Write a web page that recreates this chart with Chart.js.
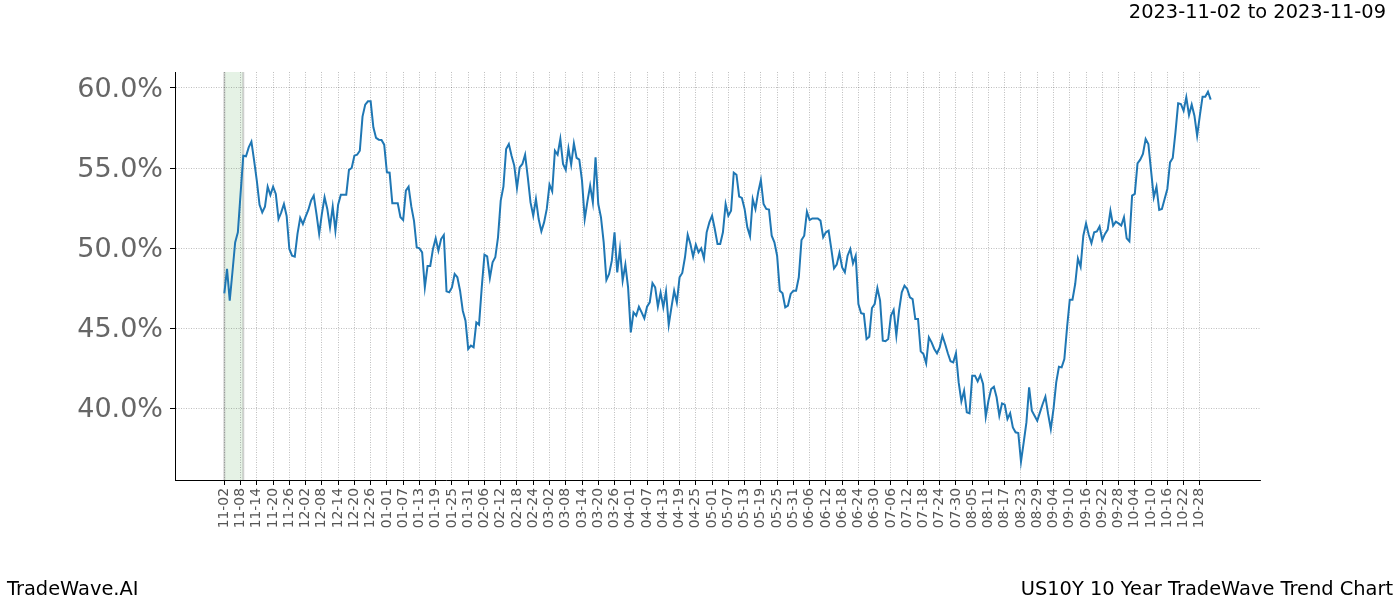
<!DOCTYPE html>
<html>
<head>
<meta charset="utf-8">
<script src="https://cdn.jsdelivr.net/npm/chart.js@4.4.1/dist/chart.umd.min.js"></script>
<style>
html,body{margin:0;padding:0;background:#fff;}
#wrap{position:relative;width:1400px;height:600px;}
canvas{position:absolute;left:0;top:0;}
.txt{position:absolute;font-family:"DejaVu Sans";font-size:19.4px;color:#000;white-space:nowrap;line-height:1;}
</style>
</head>
<body>
<div id="wrap">
<canvas id="trendChart" width="1400" height="600"></canvas>
<div class="txt" style="right:14px;top:2px">2023-11-02 to 2023-11-09</div>
<div class="txt" style="left:7px;top:579px">TradeWave.AI</div>
<div class="txt" style="right:7px;top:579px">US10Y 10 Year TradeWave Trend Chart</div>
</div>
<script>

// one value per calendar day, starting 11-02
const trendValues = [
    47.17, 48.69, 46.71, 48.5, 50.35, 50.98, 53.4, 55.77, 55.73, 56.29,
    56.65, 55.46, 54.2, 52.7, 52.23, 52.58, 53.83, 53.31, 53.83, 53.38,
    51.81, 52.23, 52.75, 52.0, 49.94, 49.52, 49.46, 50.88, 51.88, 51.5,
    51.96, 52.38, 52.96, 53.27, 52.13, 50.88, 52.13, 53.17, 52.44, 51.29,
    52.58, 51.08, 52.71, 53.33, 53.33, 53.33, 54.88, 55.0, 55.77, 55.83,
    56.08, 58.21, 58.96, 59.17, 59.17, 57.54, 56.88, 56.77, 56.75, 56.46,
    54.73, 54.71, 52.79, 52.79, 52.79, 51.92, 51.75, 53.58, 53.83, 52.6,
    51.7, 50.04, 49.98, 49.73, 47.54, 48.88, 48.88, 49.94, 50.6, 49.83,
    50.56, 50.81, 47.29, 47.23, 47.54, 48.38, 48.17, 47.33, 46.08, 45.46,
    43.69, 43.9, 43.79, 45.35, 45.21, 47.54, 49.58, 49.48, 48.13, 49.1,
    49.42, 50.67, 52.96, 53.83, 56.19, 56.5, 55.77, 55.15, 53.75, 55.04,
    55.25, 55.83, 54.42, 52.85, 52.02, 53.06, 51.81, 51.04, 51.6, 52.44,
    53.96, 53.54, 56.08, 55.83, 56.81, 55.25, 54.88, 56.23, 55.21, 56.54,
    55.63, 55.52, 54.21, 51.81, 52.92, 53.9, 52.85, 55.67, 52.75, 51.92,
    50.35, 48.0, 48.38, 49.21, 50.98, 48.48, 49.94, 47.96, 48.96, 47.54,
    44.73, 45.98, 45.77, 46.33, 45.98, 45.6, 46.33, 46.6, 47.81, 47.54,
    46.33, 47.21, 46.29, 47.29, 45.19, 46.29, 47.33, 46.6, 48.17, 48.44,
    49.42, 50.83, 50.25, 49.46, 50.21, 49.73, 49.98, 49.35, 50.98, 51.6,
    52.02, 51.19, 50.25, 50.25, 50.98, 52.75, 52.02, 52.33, 54.71, 54.58,
    53.21, 53.13, 52.44, 51.29, 50.73, 53.06, 52.44, 53.48, 54.25, 52.75,
    52.44, 52.4, 50.77, 50.35, 49.52, 47.33, 47.17, 46.29, 46.4, 47.13,
    47.33, 47.33, 48.17, 50.5, 50.77, 52.27, 51.75, 51.85, 51.85, 51.85,
    51.71, 50.67, 50.98, 51.08, 49.94, 48.73, 48.96, 49.69, 48.79, 48.48,
    49.52, 49.94, 49.04, 49.52, 46.5, 45.92, 45.88, 44.31, 44.46, 46.25,
    46.5, 47.5, 46.71, 44.21, 44.17, 44.31, 45.77, 46.13, 44.52, 46.08,
    47.23, 47.65, 47.44, 46.92, 46.81, 45.56, 45.56, 43.54, 43.38, 42.79,
    44.42, 44.1, 43.69, 43.42, 43.79, 44.52, 44.0, 43.42, 42.92, 42.85,
    43.42, 41.6, 40.42, 41.08, 39.73, 39.67, 42.02, 42.02, 41.67, 42.06,
    41.5, 39.46, 40.46, 41.19, 41.33, 40.67, 39.52, 40.29, 40.21, 39.31,
    39.67, 38.79, 38.48, 38.44, 36.65, 37.85, 39.1, 41.29, 39.83, 39.52,
    39.21, 39.73, 40.25, 40.71, 39.63, 38.69, 39.94, 41.6, 42.58, 42.54,
    43.06, 45.04, 46.77, 46.77, 47.75, 49.35, 48.83, 50.77, 51.54, 50.83,
    50.31, 50.98, 51.04, 51.35, 50.5, 50.88, 51.15, 52.33, 51.4, 51.65,
    51.54, 51.4, 51.92, 50.6, 50.42, 53.27, 53.38, 55.29, 55.52, 55.88,
    56.81, 56.5, 54.83, 53.17, 53.83, 52.38, 52.44, 53.06, 53.69, 55.35,
    55.63, 57.23, 59.04, 59.0, 58.58, 59.42, 58.31, 58.96, 58.27, 57.02,
    58.27, 59.46, 59.46, 59.77, 59.27
];

// x tick labels, one every 6 days
const tickLabels = [
    "11-02","11-08","11-14","11-20","11-26","12-02","12-08","12-14","12-20","12-26",
    "01-01","01-07","01-13","01-19","01-25","01-31","02-06","02-12","02-18","02-24",
    "03-02","03-08","03-14","03-20","03-26","04-01","04-07","04-13","04-19","04-25",
    "05-01","05-07","05-13","05-19","05-25","05-31","06-06","06-12","06-18","06-24",
    "06-30","07-06","07-12","07-18","07-24","07-30","08-05","08-11","08-17","08-23",
    "08-29","09-04","09-10","09-16","09-22","09-28","10-04","10-10","10-16","10-22",
    "10-28"
];
const tickStep = 6;

const yTicks = [40, 45, 50, 55, 60];

// highlighted window, in days from the start
const bandRange = [0, 7];

const bandPlugin = {
    id:"band",
    beforeDraw(chart){
        const {ctx, chartArea, scales} = chart;
        const x1 = scales.x.getPixelForValue(bandRange[0]);
        const x2 = scales.x.getPixelForValue(bandRange[1]);
        ctx.save();
        ctx.fillStyle = "rgba(0,128,0,0.1)";
        ctx.fillRect(x1, chartArea.top, x2 - x1, chartArea.bottom - chartArea.top);
        ctx.strokeStyle = "rgba(128,128,128,0.35)";
        ctx.lineWidth = 2;
        ctx.beginPath();
        ctx.moveTo(x1, chartArea.top);
        ctx.lineTo(x1, chartArea.bottom);
        ctx.moveTo(x2, chartArea.top);
        ctx.lineTo(x2, chartArea.bottom);
        ctx.stroke();
        ctx.restore();
    }
};

const points = trendValues.map((v, i) => ({x:i, y:v}));

const gridStyle = {
    color:"rgba(0,0,0,0.32)",
    lineWidth:0.8,
    tickLength:5,
    tickColor:"#000",
    tickWidth:1,
    tickBorderDash:[]
};

const borderStyle = {
    color:"#000",
    width:1,
    dash:[1,1.5]
};

const ctx = document.getElementById("trendChart").getContext("2d");

new Chart(ctx,{

    type:"line",

    data:{
        datasets:[{
            data:points,
            borderColor:"#1f77b4",
            borderWidth:2,
            pointRadius:0,
            tension:0,
            fill:false
        }]
    },

    options:{

        responsive:false,
        animation:false,
        devicePixelRatio:1,

        layout:{
            padding:{top:72, right:140, left:0, bottom:0}
        },

        plugins:{
            legend:{display:false},
            tooltip:{enabled:false}
        },

        scales:{

            x:{
                type:"linear",
                min:-18.2,
                max:382.2,
                afterBuildTicks(scale){
                    scale.ticks = tickLabels.map((l, i) => ({value:i * tickStep}));
                },
                afterFit(scale){
                    scale.height = 120;
                },
                ticks:{
                    autoSkip:false,
                    minRotation:90,
                    maxRotation:90,
                    padding:3,
                    color:"#555",
                    font:{family:"DejaVu Sans", size:13.9},
                    callback:(value, index) => tickLabels[index]
                },
                grid:gridStyle,
                border:borderStyle
            },

            y:{
                min:35.5,
                max:61,
                afterBuildTicks(scale){
                    scale.ticks = yTicks.map(v => ({value:v}));
                },
                afterFit(scale){
                    scale.width = 175;
                },
                ticks:{
                    padding:7,
                    labelOffset:2,
                    color:"#666",
                    font:{family:"DejaVu Sans", size:27},
                    callback:v => v.toFixed(1) + "%"
                },
                grid:gridStyle,
                border:borderStyle
            }

        }

    },

    plugins:[bandPlugin]

});

</script>
</body>
</html>
